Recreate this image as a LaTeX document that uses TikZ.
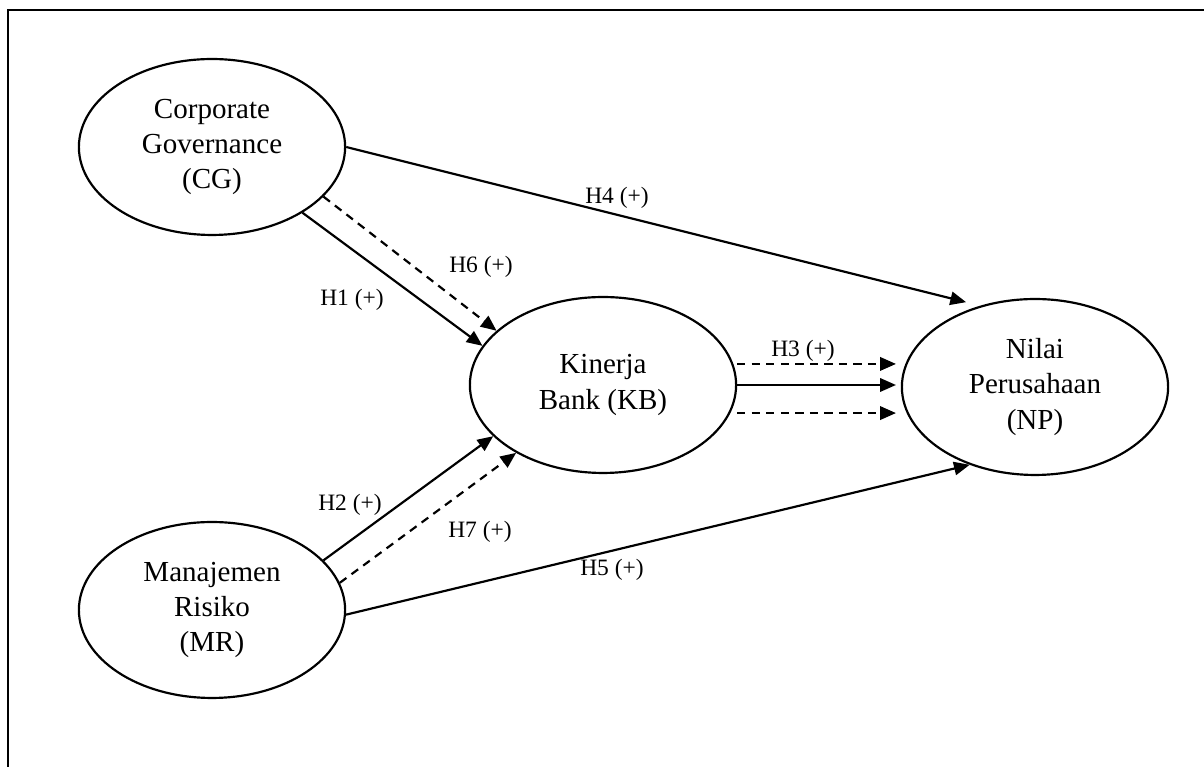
\documentclass[tikz,border=0pt]{standalone}
\usepackage{fontspec}
\setmainfont{Liberation Serif}
\usetikzlibrary{shapes.geometric,arrows.meta}
\tikzset{
  varnode/.style={ellipse,draw,line width=0.9pt,minimum width=110pt,minimum height=72.7pt,inner sep=0pt,align=center,font=\fontsize{12pt}{14.5pt}\selectfont},
  hlabel/.style={font=\fontsize{9.7pt}{11pt}\selectfont,inner sep=1pt},
  arr/.style={-{Triangle[length=6.5pt,width=5.5pt]},line width=0.9pt},
  dasharr/.style={arr,dash pattern=on 3.4pt off 2.6pt},
  framebox/.style={line width=1.1pt}
}

\begin{document}
\begin{tikzpicture}[x=0.4132pt,y=-0.4132pt]
  \useasboundingbox (0,0) rectangle (1204,767);
  \draw[framebox] (1204,10) -| (8,767);

  %% latent variables
  \node[varnode] (CG) at (212,147) {Corporate\\Governance\\(CG)};
  \node[varnode] (KB) at (603,385) {Kinerja\\Bank (KB)};
  \node[varnode] (NP) at (1035,387) {Nilai\\Perusahaan\\(NP)};
  \node[varnode] (MR) at (212,610) {Manajemen\\Risiko\\(MR)};

  %% direct paths
  \draw[arr] (CG.-36) -- (KB.162);
  \draw[arr] (MR.24) -- (KB.205);
  \draw[arr,shorten >=6pt] (CG.east) -- (NP.124);
  \draw[arr] (MR.-2) -- (NP.230);
  \draw[arr,shorten >=2pt] (KB.east) -- (KB.east -| NP.west);

  %% mediated paths
  \draw[dasharr] (CG.-24) -- (KB.153);
  \draw[dasharr] (MR.12) -- (KB.218);
  \draw[dasharr,shorten >=2pt] ([yshift=8.7pt]KB.east) -- ([yshift=8.7pt]KB.east -| NP.west);
  \draw[dasharr,shorten >=2pt] ([yshift=-11.6pt]KB.east) -- ([yshift=-11.6pt]KB.east -| NP.west);

  %% hypothesis labels
  \node[hlabel] (h1) at (352,300) {H1 (+)};
  \node[hlabel] (h2) at (350,505) {H2 (+)};
  \node[hlabel] (h3) at (803,351) {H3 (+)};
  \node[hlabel] (h4) at (617,198) {H4 (+)};
  \node[hlabel] (h5) at (612,570) {H5 (+)};
  \node[hlabel] (h6) at (481,267) {H6 (+)};
  \node[hlabel] (h7) at (480,532) {H7 (+)};
\end{tikzpicture}
\end{document}
